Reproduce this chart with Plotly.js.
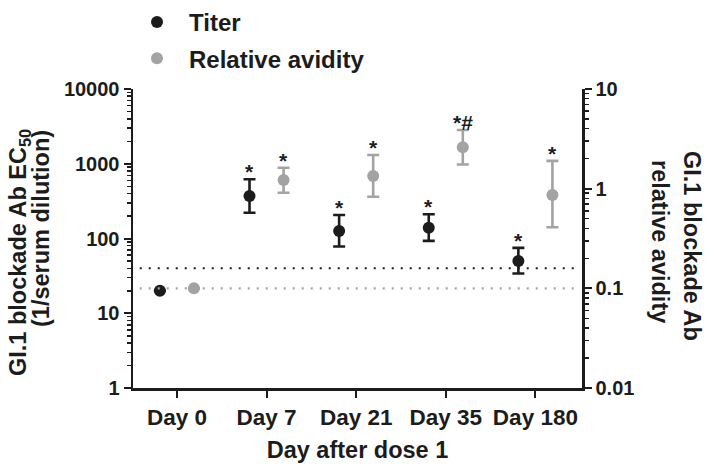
<!DOCTYPE html>
<html>
<head>
<meta charset="utf-8">
<script src="https://cdn.plot.ly/plotly-3.0.1.min.js"></script>
<style>html,body{margin:0;padding:0;background:#fff}#chart{width:714px;height:468px}</style>
</head>
<body>
<div id="chart"></div>
<script>
// ---- data ----
const categories = ['Day 0', 'Day 7', 'Day 21', 'Day 35', 'Day 180'];
const titer      = [20, 370, 126, 139, 50];
const titerHigh  = [null, 620, 206, 211, 75];
const titerLow   = [null, 221, 78, 93, 34];
const avidity     = [0.1, 1.22, 1.34, 2.6, 0.865];
const avidityHigh = [null, 1.62, 2.18, 3.88, 1.90];
const avidityLow  = [null, 0.91, 0.83, 1.75, 0.41];
const titerMarks   = ['', '*', '*', '*', '*'];
const avidityMarks = ['', '*', '*', '*#', '*'];
const titerCutoff = 40;     // left axis
const avidityCutoff = 0.1;  // right axis
const leftTicks = [1, 10, 100, 1000, 10000];
const rightTicks = [0.01, 0.1, 1, 10];
const leftTitle = ['GI.1 blockade Ab EC<sub>50</sub>', '(1/serum dilution)'];
const rightTitle = ['GI.1 blockade Ab', 'relative avidity'];
const xTitle = 'Day after dose 1';

// ---- styles ----
const BLACK = '#1c1c1c', GRAY = '#a3a3a3';
const FONT = 'Liberation Sans, Arial, sans-serif';
const OFF = 0.19;
const idx = categories.map((_, i) => i);
const xT = idx.map(i => i - OFF), xA = idx.map(i => i + OFF);
const up = (hi, v) => hi.map((h, i) => h == null ? null : h - v[i]);
const dn = (lo, v) => lo.map((l, i) => l == null ? null : v[i] - l);
const bold = (size) => ({family: FONT, size: size, color: BLACK, weight: 'bold'});

const traces = [
  {x: xT, y: titer, type: 'scatter', mode: 'markers', name: 'Titer', legendgroup: 'a',
   marker: {color: BLACK, size: 12},
   error_y: {type: 'data', symmetric: false, array: up(titerHigh, titer), arrayminus: dn(titerLow, titer),
             color: BLACK, thickness: 2.6, width: 6}, yaxis: 'y', cliponaxis: false},
  {x: xA, y: avidity, type: 'scatter', mode: 'markers', name: 'Relative avidity', legendgroup: 'b',
   marker: {color: GRAY, size: 12},
   error_y: {type: 'data', symmetric: false, array: up(avidityHigh, avidity), arrayminus: dn(avidityLow, avidity),
             color: GRAY, thickness: 2.6, width: 6}, yaxis: 'y2', cliponaxis: false}
];

const ann = [];
idx.forEach(i => {
  if (titerMarks[i]) ann.push({x: xT[i], y: Math.log10(titerHigh[i]), xref: 'x', yref: 'y', text: titerMarks[i],
    showarrow: false, yanchor: 'bottom', yshift: -6, font: bold(21)});
  if (avidityMarks[i]) ann.push({x: xA[i], y: Math.log10(avidityHigh[i]), xref: 'x', yref: 'y2', text: avidityMarks[i],
    showarrow: false, yanchor: 'bottom', yshift: -6, font: bold(21)});
});
// left title (two lines)
ann.push({xref: 'paper', yref: 'paper', x: (19 - 133) / 449, y: (388 - 253) / 299, textangle: -90, showarrow: false,
  text: leftTitle[0], xanchor: 'center', yanchor: 'middle', font: bold(23.5)});
ann.push({xref: 'paper', yref: 'paper', x: (41 - 133) / 449, y: (388 - 229) / 299, textangle: -90, showarrow: false,
  text: leftTitle[1], xanchor: 'center', yanchor: 'middle', font: bold(23.5)});
// right title
ann.push({xref: 'paper', yref: 'paper', x: (692 - 133) / 449, y: (388 - 246) / 299, textangle: 90, showarrow: false,
  text: rightTitle[0], xanchor: 'center', yanchor: 'middle', font: bold(23.5)});
ann.push({xref: 'paper', yref: 'paper', x: (660 - 133) / 449, y: (388 - 241) / 299, textangle: 90, showarrow: false,
  text: rightTitle[1], xanchor: 'center', yanchor: 'middle', font: bold(23.5)});

const axisCommon = {showgrid: false, zeroline: false, showline: true, linecolor: BLACK, linewidth: 2.5,
  ticks: 'outside', tickcolor: BLACK, tickwidth: 2, ticklen: 7, tickfont: bold(20)};

const layout = {
  width: 714, height: 468,
  margin: {l: 133, r: 132, t: 89, b: 80, autoexpand: false},
  paper_bgcolor: '#fff', plot_bgcolor: '#fff',
  font: {family: FONT, color: BLACK},
  showlegend: true,
  legend: {xref: 'container', yref: 'container', x: 125 / 714, y: 1, xanchor: 'left', yanchor: 'top',
    itemwidth: 54, tracegroupgap: 2, font: bold(24), bgcolor: 'rgba(0,0,0,0)'},
  xaxis: Object.assign({}, axisCommon, {range: [-0.49, 4.52], tickvals: idx, ticktext: categories,
    tickangle: 0, tickfont: bold(22.5), title: {text: xTitle, font: bold(23.5), standoff: 13}}),
  yaxis: Object.assign({}, axisCommon, {type: 'log', range: [0, 4], tickvals: leftTicks, ticktext: leftTicks.map(String),
    minor: {ticks: 'outside', ticklen: 4, tickwidth: 1.5, tickcolor: BLACK, dtick: 'D1', showgrid: false}}),
  yaxis2: Object.assign({}, axisCommon, {type: 'log', range: [-2, 1], overlaying: 'y', side: 'right',
    tickvals: rightTicks, ticktext: rightTicks.map(String),
    minor: {ticks: 'outside', ticklen: 4, tickwidth: 1.5, tickcolor: BLACK, dtick: 'D1', showgrid: false}}),
  shapes: [
    {type: 'line', xref: 'paper', yref: 'y', x0: 0.015, x1: 0.985, y0: titerCutoff, y1: titerCutoff,
     line: {color: BLACK, width: 2.2, dash: '2px,7px'}},
    {type: 'line', xref: 'paper', yref: 'y2', x0: 0.015, x1: 0.985, y0: avidityCutoff, y1: avidityCutoff,
     line: {color: GRAY, width: 2.2, dash: '2px,7px'}}
  ],
  annotations: ann
};

Plotly.newPlot('chart', traces, layout, {displayModeBar: false, staticPlot: true});
</script>
</body>
</html>
